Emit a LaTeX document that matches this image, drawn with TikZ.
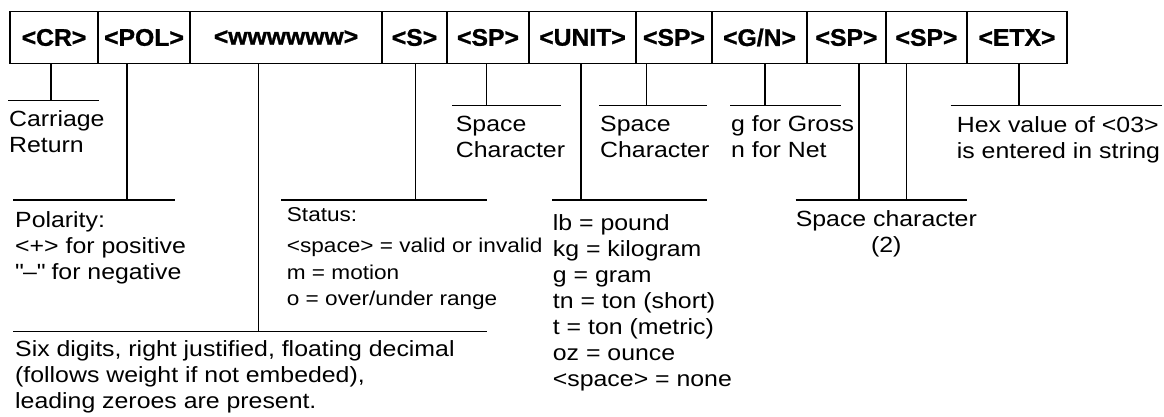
\documentclass[tikz,border=0pt]{standalone}
\usepackage{fontspec}
\setmainfont{Liberation Sans}[FakeStretch=1.13]
\newfontfamily\fieldfont{Liberation Sans}[FakeStretch=1.03,FakeBold=1.2]
\usetikzlibrary{positioning}
\tikzset{
  field/.style={
    draw,
    rectangle,
    minimum height=51.6,
    inner sep=0pt,
    outer sep=0pt,
    line width=1.1pt,
    font=\fieldfont\bfseries\fontsize{24}{24}\selectfont,
  },
  lead/.style={line width=1.1pt},
  note/.style={
    anchor=base west,
    align=left,
    inner sep=0pt,
    font=\fontsize{22}{26}\selectfont,
  },
  smallnote/.style={note, font=\fontsize{20}{26.5}\selectfont},
}

\begin{document}
\begin{tikzpicture}[x=1pt,y=-1pt]
  \useasboundingbox (0,0) rectangle (1164,417);
  % the string of fields
  \node[field, minimum width=88] (cr) at (54,37.5) {<CR>};
  \node[field, minimum width=92, right=0pt of cr] (pol) {<POL>};
  \node[field, minimum width=192, right=0pt of pol] (wt) {<wwwwww>};
  \node[field, minimum width=65, right=0pt of wt] (st) {<S>\hspace{8pt}};
  \node[field, minimum width=82, right=0pt of st] (spa) {<SP>\hspace{10pt}};
  \node[field, minimum width=107, right=0pt of spa] (unit) {<UNIT>};
  \node[field, minimum width=76, right=0pt of unit] (spb) {<SP>};
  \node[field, minimum width=95, right=0pt of spb] (gn) {<G/N>};
  \node[field, minimum width=79, right=0pt of gn] (spc) {<SP>};
  \node[field, minimum width=81, right=0pt of spc] (spd) {<SP>};
  \node[field, minimum width=100, right=0pt of spd] (etx) {<ETX>\hspace{13pt}};

  % tees under the fields
  \coordinate (crT) at (51,100.7);
  \coordinate (polT) at (127,200);
  \coordinate (wtT) at (258.3,331.7);
  \coordinate (stT) at (415.7,200);
  \coordinate (spaT) at (486.7,105.7);
  \coordinate (unitT) at (581,200);
  \coordinate (spbT) at (646.7,105.7);
  \coordinate (gnT) at (765,105.7);
  \coordinate (spcT) at (859,200);
  \coordinate (spdT) at (906.3,200);
  \coordinate (etxT) at (1019,105.7);

  \draw[lead] (cr.south -| crT) -- (crT);
  \draw[lead] ([xshift=-43]crT) -- ([xshift=48]crT);
  \draw[lead] (pol.south -| polT) -- (polT);
  \draw[lead] ([xshift=-114]polT) -- ([xshift=48]polT);
  \draw[lead] (wt.south -| wtT) -- (wtT);
  \draw[lead] ([xshift=-245.3]wtT) -- ([xshift=228.7]wtT);
  \draw[lead] (st.south -| stT) -- (stT);
  \draw[lead] ([xshift=-134.7]stT) -- ([xshift=71]stT);
  \draw[lead] (spa.south -| spaT) -- (spaT);
  \draw[lead] ([xshift=-34.4]spaT) -- ([xshift=74]spaT);
  \draw[lead] (unit.south -| unitT) -- (unitT);
  \draw[lead] ([xshift=-28.7]unitT) -- ([xshift=126.3]unitT);
  \draw[lead] (spb.south -| spbT) -- (spbT);
  \draw[lead] ([xshift=-47.7]spbT) -- ([xshift=60.6]spbT);
  \draw[lead] (gn.south -| gnT) -- (gnT);
  \draw[lead] ([xshift=-35]gnT) -- ([xshift=76]gnT);
  \draw[lead] (spc.south -| spcT) -- (spcT);
  \draw[lead] (spd.south -| spdT) -- (spdT);
  \draw[lead] ([xshift=-63.3]spcT) -- ([xshift=61]spdT);
  \draw[lead] (etx.south -| etxT) -- (etxT);
  \draw[lead] ([xshift=-68.3]etxT) -- ([xshift=143.3]etxT);

  % notes (placed at the baseline of their last line)
  \node[note] (crnote) at (9,152.5) {Carriage\\Return};
  \node[note] (polnote) at (15,279) {Polarity:\\<+> for positive\\\textquotedbl--\textquotedbl\ for negative};
  \node[note] (wtnote) at (15,408.7) {Six digits, right justified, floating decimal\\(follows weight if not embeded),\\leading zeroes are present.};
  \node[smallnote] (stnote) at (286.7,305.5) {Status:\\[4.5pt]<space> = valid or invalid\\m = motion\\o = over/under range};
  \node[note] (spanote) at (455.7,157.7) {Space\\Character};
  \node[note] (unitnote) at (552.7,386.5) {lb = pound\\kg = kilogram\\g = gram\\tn = ton (short)\\t = ton (metric)\\oz = ounce\\<space> = none};
  \node[note] (spbnote) at (600,157.7) {Space\\Character};
  \node[note] (gnnote) at (731,157.7) {g for Gross\\n for Net};
  \node[note, align=center, anchor=base] (spcnote) at (886.3,252.5) {Space character\\(2)};
  \node[note] (etxnote) at (956.7,158) {Hex value of <03>\\is entered in string};
\end{tikzpicture}
\end{document}
